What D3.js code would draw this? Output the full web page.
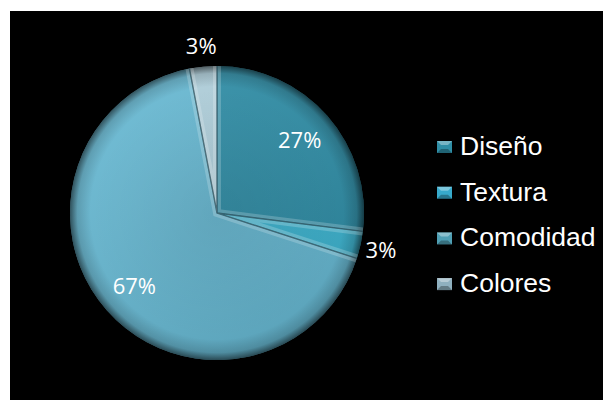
<!DOCTYPE html>
<html><head><meta charset="utf-8">
<script src="https://cdn.jsdelivr.net/npm/d3@7"></script>
<style>body{margin:0;background:#fff}svg{display:block}</style>
</head><body>
<svg id="c" width="610" height="411"></svg>
<script>
const categories = ["Diseño", "Textura", "Comodidad", "Colores"];
const values = [27, 3, 67, 3];
const labels = ["27%", "3%", "67%", "3%"];
const colors = ["#2f8ea7", "#3db4d0", "#67b9d3", "#b0d0dc"];
const markerColors = ["#2f8ea6", "#37aacb", "#4f9fb4", "#8fb0bf"];
const labelInside = [true, false, true, false];

const svg = d3.select("#c");
svg.append("rect").attr("x", 10).attr("y", 11).attr("width", 593).attr("height", 389).attr("fill", "#000");

const cx = 217, cy = 213, R = 147;
const defs = svg.append("defs");

const rg = defs.append("radialGradient").attr("id", "rim")
  .attr("gradientUnits", "userSpaceOnUse").attr("cx", cx).attr("cy", cy).attr("r", R);
rg.append("stop").attr("offset", 0).attr("stop-color", "#000").attr("stop-opacity", 0.06);
rg.append("stop").attr("offset", 0.86).attr("stop-color", "#000").attr("stop-opacity", 0.0);
rg.append("stop").attr("offset", 0.95).attr("stop-color", "#000").attr("stop-opacity", 0.15);
rg.append("stop").attr("offset", 1).attr("stop-color", "#000").attr("stop-opacity", 0.55);

const lg = defs.append("linearGradient").attr("id", "shade")
  .attr("gradientUnits", "userSpaceOnUse").attr("x1", cx - R).attr("y1", cy - R).attr("x2", cx + R * 0.3).attr("y2", cy + R);
lg.append("stop").attr("offset", 0).attr("stop-color", "#fff").attr("stop-opacity", 0.08);
lg.append("stop").attr("offset", 1).attr("stop-color", "#000").attr("stop-opacity", 0.12);

const pie = d3.pie().sort(null).value(d => d);
const arcs = pie(values);
const arc = d3.arc().innerRadius(0).outerRadius(R);
const arcIn = d3.arc().innerRadius(R * 0.75).outerRadius(R * 0.75);
const arcOut = d3.arc().innerRadius(168).outerRadius(168);

const g = svg.append("g").attr("transform", `translate(${cx},${cy})`);

arcs.forEach((a, i) => {
  defs.append("clipPath").attr("id", "cl" + i)
    .append("path").attr("transform", `translate(${cx},${cy})`).attr("d", arc(a));
});

g.selectAll("path.slice").data(arcs).join("path").attr("class", "slice")
  .attr("d", arc).attr("fill", (d, i) => colors[i]);

function radii(a) {
  const p = ang => [R * Math.sin(ang), -R * Math.cos(ang)];
  const s = p(a.startAngle), e = p(a.endAngle);
  return `M${s[0]},${s[1]}L0,0L${e[0]},${e[1]}`;
}

arcs.forEach((a, i) => {
  const sg = svg.append("g").attr("clip-path", `url(#cl${i})`);
  sg.append("rect").attr("x", cx - R).attr("y", cy - R).attr("width", 2 * R).attr("height", 2 * R).attr("fill", "url(#shade)");
  sg.append("rect").attr("x", cx - R).attr("y", cy - R).attr("width", 2 * R).attr("height", 2 * R).attr("fill", "url(#rim)");
  sg.append("path").attr("transform", `translate(${cx},${cy})`).attr("d", radii(a))
    .attr("fill", "none").attr("stroke", "#fff").attr("stroke-opacity", 0.2).attr("stroke-width", 8);
  sg.append("path").attr("transform", `translate(${cx},${cy})`).attr("d", radii(a))
    .attr("fill", "none").attr("stroke", "#1c4350").attr("stroke-opacity", 0.7).attr("stroke-width", 1.4);
});

svg.append("g").attr("transform", `translate(${cx},${cy})`)
  .selectAll("text").data(arcs).join("text")
  .attr("transform", (d, i) => {
    const p = labelInside[i] ? arcIn.centroid(d) : arcOut.centroid(d);
    return `translate(${p[0]},${p[1]})`;
  })
  .attr("text-anchor", "middle").attr("dy", "0.36em")
  .attr("fill", "#fff").attr("font-family", "'Open Sans', sans-serif").attr("font-size", 22)
  .text((d, i) => labels[i]);

const leg = svg.append("g");
categories.forEach((c, i) => {
  const by = 155 + 45.7 * i;
  const mx = 437, my = by - 14, mw = 15, mh = 12;
  leg.append("rect").attr("x", mx).attr("y", my).attr("width", mw).attr("height", mh).attr("fill", markerColors[i]);
  leg.append("path").attr("d", `M${mx},${my}L${mx + mw},${my}L${mx + mw - 4},${my + 4}L${mx + 4},${my + 4}Z`)
    .attr("fill", "#fff").attr("fill-opacity", 0.35);
  leg.append("path").attr("d", `M${mx},${my + mh}L${mx + mw},${my + mh}L${mx + mw - 4},${my + mh - 4}L${mx + 4},${my + mh - 4}Z`)
    .attr("fill", "#000").attr("fill-opacity", 0.3);
  leg.append("text").attr("x", 460).attr("y", by).attr("fill", "#fff")
    .attr("font-family", "'Liberation Sans', Arial, sans-serif").attr("font-size", 26.5).text(c);
});
</script>
</body></html>
